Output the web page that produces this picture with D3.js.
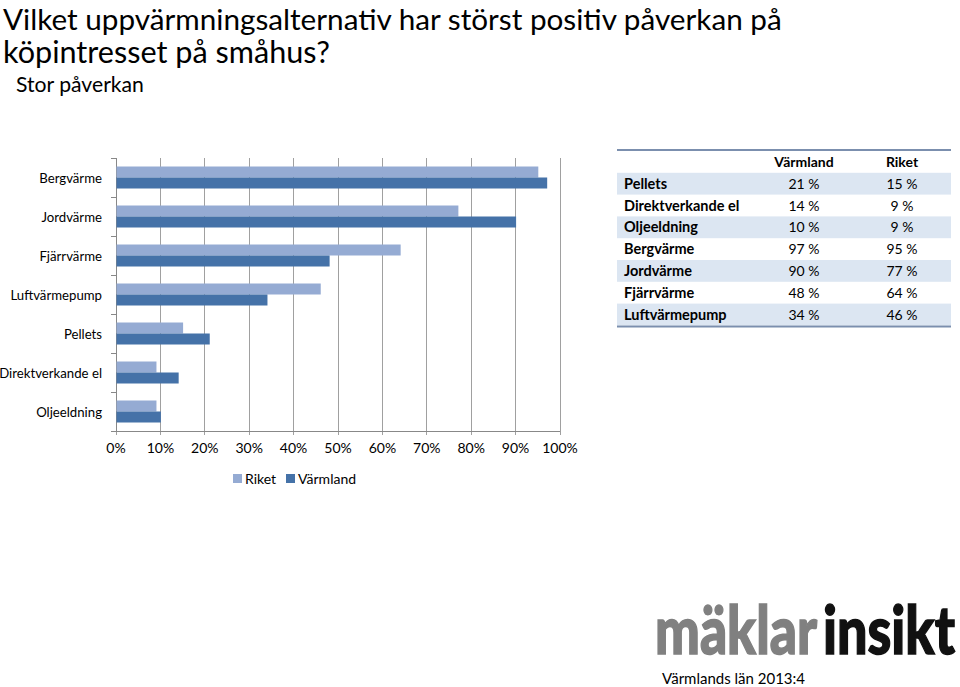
<!DOCTYPE html>
<html><head><meta charset="utf-8">
<script src="https://cdn.jsdelivr.net/npm/d3@7"></script>
<style>body{margin:0;background:#fff}svg{display:block}</style>
</head><body>
<script>
const categories = ["Bergvärme","Jordvärme","Fjärrvärme","Luftvärmepump","Pellets","Direktverkande el","Oljeeldning"];
const riket = [95,77,64,46,15,9,9];
const varmland = [97,90,48,34,21,14,10];
const xTicks = [0,10,20,30,40,50,60,70,80,90,100];
const tableRows = ["Pellets","Direktverkande el","Oljeeldning","Bergvärme","Jordvärme","Fjärrvärme","Luftvärmepump"];
const tableVarmland = ["21 %","14 %","10 %","97 %","90 %","48 %","34 %"];
const tableRiket = ["15 %","9 %","9 %","95 %","77 %","64 %","46 %"];

const W=960,H=687;
const svg=d3.select("body").append("svg").attr("width",W).attr("height",H);
const bodyFont="Lato, 'Open Sans', sans-serif";
const LIGHT="#95abd3", DARK="#4572a8";

function fitWidth(sel, target){
  const base=+sel.attr("font-size");
  const w=sel.node().getComputedTextLength();
  if(w>0) sel.attr("font-size", base*target/w);
  return sel;
}

// Title
fitWidth(svg.append("text").attr("x",3).attr("y",30).attr("font-family",bodyFont).attr("font-size",29).attr("fill","#000")
  .text("Vilket uppvärmningsalternativ har störst positiv påverkan på"), 779);
fitWidth(svg.append("text").attr("x",3).attr("y",63).attr("font-family",bodyFont).attr("font-size",29).attr("fill","#000")
  .text("köpintresset på småhus?"), 327);
fitWidth(svg.append("text").attr("x",16).attr("y",92).attr("font-family",bodyFont).attr("font-size",20).attr("fill","#000")
  .text("Stor påverkan"), 128);

// Chart
const x=d3.scaleLinear().domain([0,100]).range([116,560]);
const y=d3.scaleBand().domain(categories).range([158,431]);
const inner=d3.scaleBand().domain(["Riket","Värmland"]).range([0,22]);
const barOff=(y.bandwidth()-22)/2;

const g=svg.append("g");
g.selectAll("line.grid").data(xTicks).join("line")
  .attr("x1",d=>x(d)).attr("x2",d=>x(d)).attr("y1",158).attr("y2",435)
  .attr("stroke","#a0a0a0").attr("stroke-width",1).attr("shape-rendering","crispEdges");
g.append("line").attr("x1",x(0)).attr("x2",x(100)).attr("y1",431).attr("y2",431).attr("stroke","#888").attr("shape-rendering","crispEdges");
g.append("line").attr("x1",x(0)).attr("x2",x(0)).attr("y1",158).attr("y2",431).attr("stroke","#888").attr("shape-rendering","crispEdges");
const yTickPos=categories.map(c=>y(c)).concat([431]);
g.selectAll("line.yt").data(yTickPos).join("line").attr("x1",x(0)-5).attr("x2",x(0)).attr("y1",d=>d).attr("y2",d=>d)
  .attr("stroke","#888").attr("shape-rendering","crispEdges");

const rows=categories.map((c,i)=>({c,r:riket[i],v:varmland[i]}));
g.selectAll("rect.r").data(rows).join("rect")
  .attr("x",x(0)+0.5).attr("y",d=>y(d.c)+barOff+inner("Riket")).attr("height",inner.bandwidth())
  .attr("width",d=>x(d.r)-x(0)).attr("fill",LIGHT);
g.selectAll("rect.v").data(rows).join("rect")
  .attr("x",x(0)+0.5).attr("y",d=>y(d.c)+barOff+inner("Värmland")).attr("height",inner.bandwidth())
  .attr("width",d=>x(d.v)-x(0)).attr("fill",DARK);

g.selectAll("text.cat").data(categories).join("text")
  .attr("x",102).attr("y",d=>y(d)+y.bandwidth()/2+5).attr("text-anchor","end")
  .attr("font-family",bodyFont).attr("font-size",13.2).attr("fill","#000").text(d=>d);
g.selectAll("text.xt").data(xTicks).join("text")
  .attr("x",d=>x(d)).attr("y",453).attr("text-anchor","middle")
  .attr("font-family",bodyFont).attr("font-size",14).attr("fill","#000").text(d=>d+"%");

const leg=[{k:"Riket",c:LIGHT,x:233},{k:"Värmland",c:DARK,x:286}];
leg.forEach(l=>{
  svg.append("rect").attr("x",l.x).attr("y",474).attr("width",9).attr("height",9).attr("fill",l.c);
  svg.append("text").attr("x",l.x+12).attr("y",484).attr("font-family",bodyFont).attr("font-size",14).attr("fill","#000").text(l.k);
});

// table
const tx0=617,tx1=951,ty0=151,rh=21.8;
svg.append("text").attr("x",804).attr("y",ty0+16).attr("text-anchor","middle").attr("font-family",bodyFont).attr("font-size",14).attr("font-weight","bold").text("Värmland");
svg.append("text").attr("x",902).attr("y",ty0+16).attr("text-anchor","middle").attr("font-family",bodyFont).attr("font-size",14).attr("font-weight","bold").text("Riket");
tableRows.forEach((r,i)=>{
  const yy=ty0+rh*(i+1);
  if(i%2===0) svg.append("rect").attr("x",tx0).attr("y",yy).attr("width",tx1-tx0).attr("height",rh).attr("fill","#dce6f2");
  svg.append("text").attr("x",624).attr("y",yy+16).attr("font-family",bodyFont).attr("font-size",14.5).attr("font-weight","bold").text(r);
  svg.append("text").attr("x",804).attr("y",yy+16).attr("text-anchor","middle").attr("font-family",bodyFont).attr("font-size",14).text(tableVarmland[i]);
  svg.append("text").attr("x",902).attr("y",yy+16).attr("text-anchor","middle").attr("font-family",bodyFont).attr("font-size",14).text(tableRiket[i]);
});
svg.append("line").attr("x1",tx0).attr("x2",tx1).attr("y1",ty0-1).attr("y2",ty0-1).attr("stroke","#7b8fae").attr("stroke-width",2);
svg.append("line").attr("x1",tx0).attr("x2",tx1).attr("y1",ty0+rh*8+1).attr("y2",ty0+rh*8+1).attr("stroke","#7b8fae").attr("stroke-width",2);

// logo
function logoWord(txt, x0, width, fill){
  const t=svg.append("text").attr("x",0).attr("y",0).attr("font-family",bodyFont).attr("font-weight",900)
    .attr("font-size",50).attr("fill",fill).attr("stroke",fill).attr("stroke-width",1.2).text(txt);
  fitWidth(t,width);
  const fs=+t.attr("font-size");
  const k=66/fs;
  t.attr("transform",`translate(${x0},654) scale(1,${k})`);
}
logoWord("mäklar",655,162,"#808080");
logoWord("insikt",823,132,"#111");
svg.append("text").attr("x",662).attr("y",684).attr("font-family",bodyFont).attr("font-size",15).attr("fill","#000").text("Värmlands län 2013:4");
</script>
</body></html>
